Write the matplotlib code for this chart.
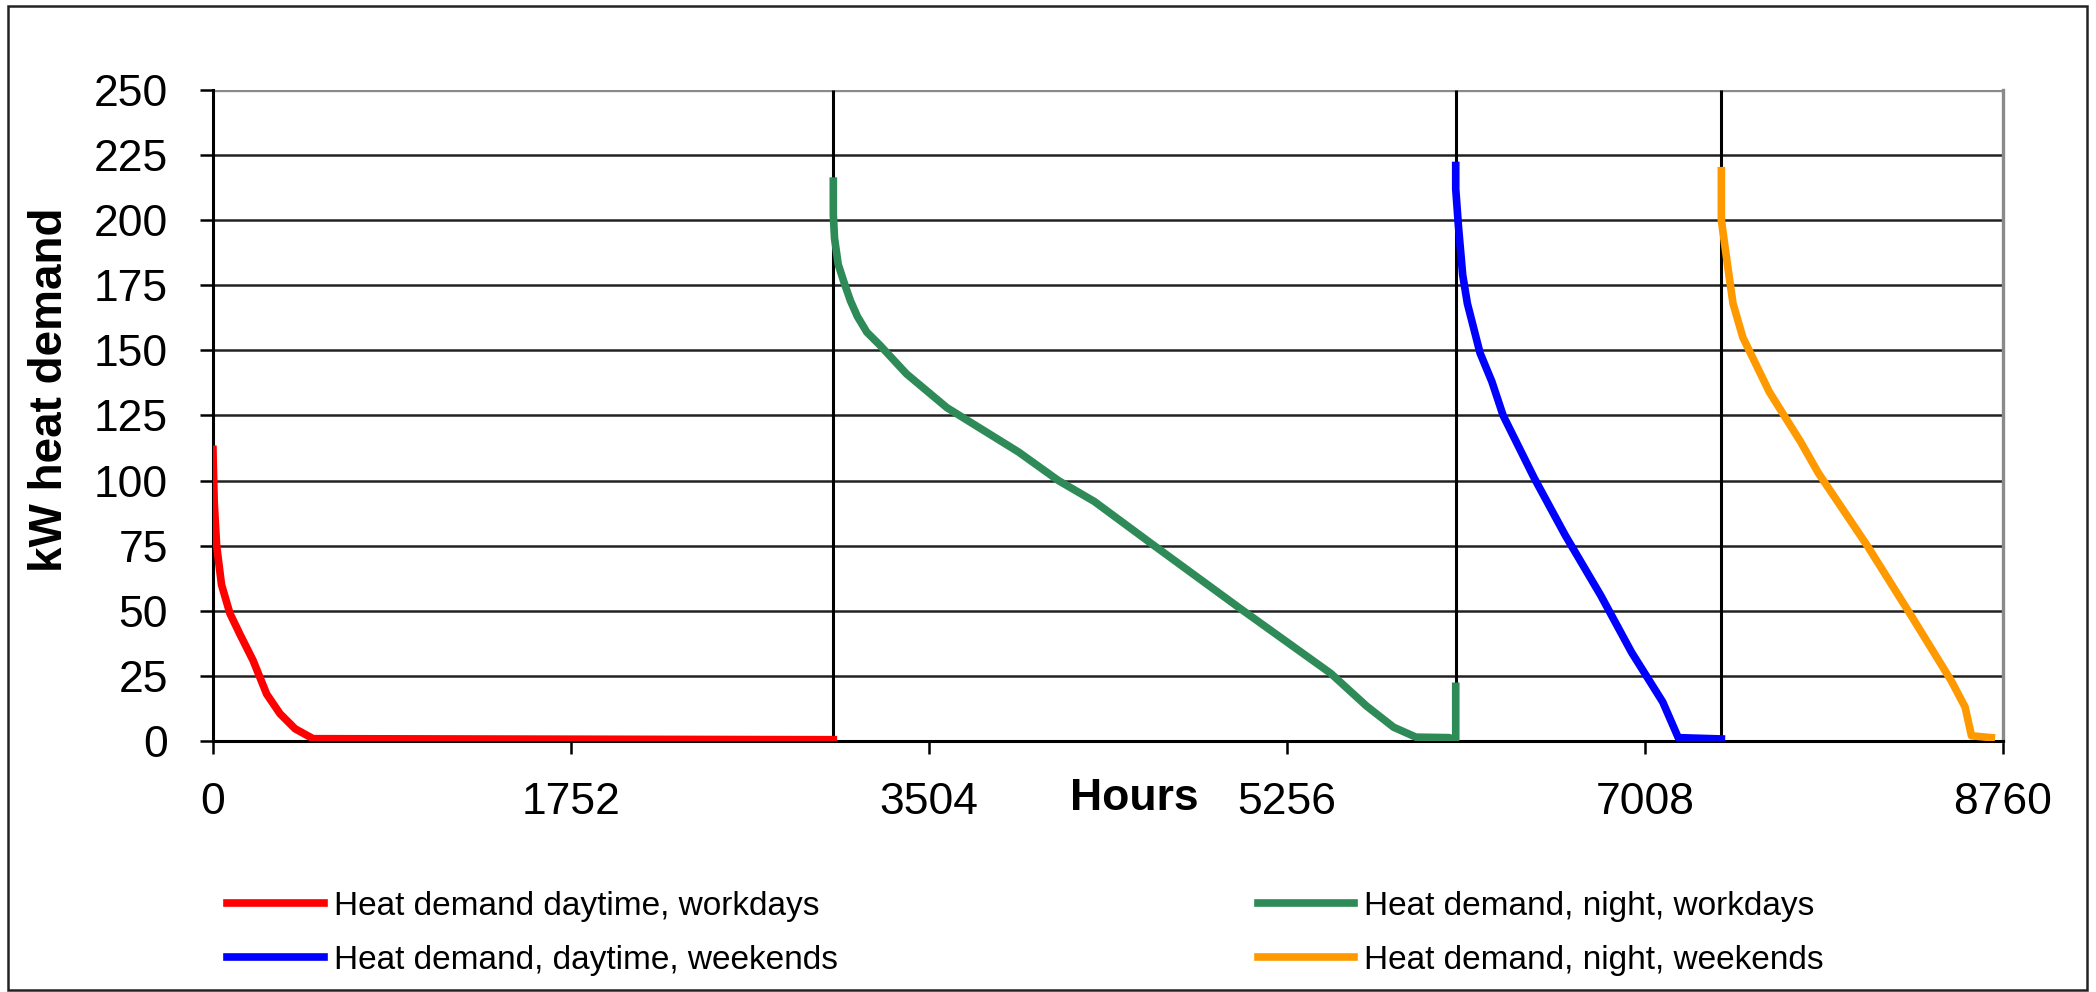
import numpy as np
import matplotlib
matplotlib.use("Agg")
import matplotlib.pyplot as plt
import matplotlib.patches as patches

plt.rcParams["font.family"] = ["Liberation Sans", "DejaVu Sans"]

# Load duration curves (hours, kW)
red_hours = [0, 6, 18, 42, 83, 132, 196, 263, 328, 402, 490, 3036]
red_kw = [112, 92, 75, 60, 49, 41, 31, 18, 10.5, 4.7, 0.9, 0.5]

green_hours = [3036, 3036, 3042, 3060, 3089, 3120, 3154, 3200, 3264, 3394, 3592,
               3942, 4138, 4313, 4598, 5034, 5470, 5646, 5778, 5887, 6050,
               6078, 6082, 6082]
green_kw = [215, 202, 193, 183, 176, 169, 163, 157, 152, 141, 128,
            111, 100, 92, 75.5, 50.5, 26, 13.4, 5.3, 1.5, 1.3,
            0.3, 0.3, 21]

blue_hours = [6082, 6082, 6095, 6116, 6139, 6201, 6259, 6314, 6466, 6618, 6791,
              6943, 7095, 7171, 7382]
blue_kw = [221, 212, 198, 179, 168, 149, 138, 125, 101, 79, 56, 34, 15, 1.3, 0.8]

orange_hours = [7382, 7382, 7410, 7439, 7487, 7617, 7769, 7856, 8096, 8312, 8508,
                8575, 8606, 8703]
orange_kw = [219, 200, 184, 168, 155, 134, 115, 103, 75, 48, 23, 13, 2, 1.3]

separators = [3036, 6082, 7382]

labels = ["Heat demand daytime, workdays", "Heat demand, daytime, weekends",
          "Heat demand, night, workdays", "Heat demand, night, weekends"]

x_ticks = [0, 1752, 3504, 5256, 7008, 8760]
y_ticks = list(range(0, 251, 25))

fig = plt.figure(figsize=(20.96, 9.92), dpi=100)
ax = fig.add_axes([0.1016, 0.253, 0.854, 0.6563])

# horizontal grid
for y in y_ticks[:-1]:
    ax.axhline(y, color="#222222", lw=1.8, zorder=1)
ax.axhline(250, color="#8a8a8a", lw=2.4, zorder=1)

# black separators between the four periods
ax.vlines(separators, 0, 250, color="black", lw=2.2, zorder=2)

l_red, = ax.plot(red_hours, red_kw, color="#ff0000", lw=5.5, zorder=3,
                 solid_joinstyle="round")
l_green, = ax.plot(green_hours, green_kw, color="#2e8b57", lw=5.5, zorder=3,
                   solid_joinstyle="round")
l_blue, = ax.plot(blue_hours, blue_kw, color="#0000ff", lw=5.5, zorder=3,
                  solid_joinstyle="round")
l_orange, = ax.plot(orange_hours, orange_kw, color="#ff9900", lw=5.5, zorder=3,
                    solid_joinstyle="round")

ax.set_xlim(0, 8760)
ax.set_ylim(0, 250)
ax.set_xticks(x_ticks)
ax.set_yticks(y_ticks)
ax.tick_params(axis="both", direction="out", length=9.4, width=1.8,
               labelsize=32, color="black")
ax.tick_params(axis="x", pad=20)
ax.tick_params(axis="y", pad=23)

for side in ["left", "bottom"]:
    ax.spines[side].set_color("black")
    ax.spines[side].set_linewidth(2.2)
ax.spines["right"].set_color("#8a8a8a")
ax.spines["right"].set_linewidth(2.4)
ax.spines["top"].set_visible(False)

ax.set_ylabel("kW heat demand", fontsize=33, fontweight="bold")
ax.yaxis.set_label_coords(-0.0785, 0.54)
ax.text(0.515, -0.0877, "Hours", transform=ax.transAxes, fontsize=32,
        fontweight="bold", ha="center", va="center")

fig.legend([l_red, l_blue, l_green, l_orange], labels, ncol=2,
           loc="center left", bbox_to_anchor=(0.1083, 0.059),
           frameon=False, fontsize=24, handlelength=2.9, handletextpad=0.3,
           columnspacing=12.6, labelspacing=0.68, borderpad=0, borderaxespad=0)

# outer frame
frame = patches.Rectangle((0.0038, 0.002), 0.9919, 0.992, transform=fig.transFigure,
                          fill=False, edgecolor="#222222", lw=1.8)
fig.patches.append(frame)

fig.savefig("out.png", dpi=100)
